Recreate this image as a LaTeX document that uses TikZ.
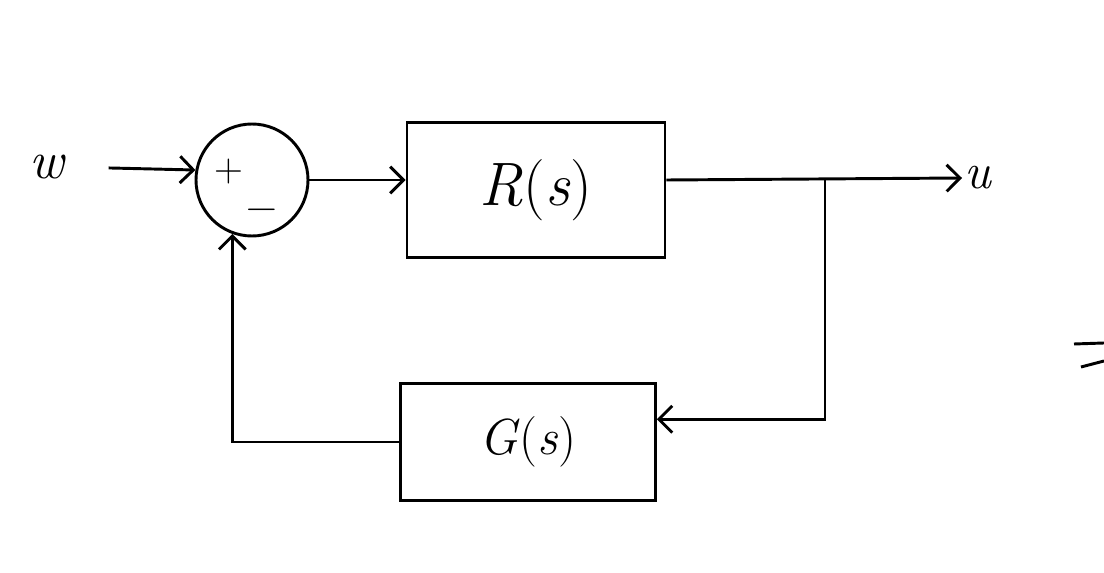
\documentclass[tikz,border=0pt]{standalone}
\usetikzlibrary{arrows.meta}

\begin{document}
\begin{tikzpicture}[x=0.75pt,y=0.75pt,yscale=-1,xscale=1,
	line width=2.2pt,
	blk/.style={draw,rectangle,inner sep=0pt},
	sumnode/.style={draw,circle,minimum size=84pt,inner sep=0pt},
	arr/.style={-{Straight Barb[length=10pt,width=20pt,line width=2.2pt]}}]
	\useasboundingbox (0,0) rectangle (1104,573);

	%Summing junction
	\node [sumnode] (sum) at (252,180) {};
	% Text Node
	\node [inner sep=0.75pt] (plus) at (229,172) {\fontsize{30}{30}\selectfont +};
	% Text Node
	\node [inner sep=0.75pt] (minus) at (262,215) {\fontsize{32}{32}\selectfont \char"2212};

	%Blocks
	\node [blk,minimum width=193.5pt,minimum height=101pt] (R) at (536,190) {\fontsize{46}{46}\selectfont \textit{R}(\textit{s})};
	\node [blk,minimum width=191pt,minimum height=88pt] (G) at (528,442) {\fontsize{38}{38}\selectfont \textit{G}(\textit{s})};

	% Text Node
	\node [inner sep=0.75pt] (w) at (48,167) {\fontsize{40}{40}\selectfont \textit{w}};
	% Text Node
	\node [inner sep=0.75pt,anchor=west] (u) at (962,178) {\fontsize{38}{38}\selectfont \textit{u}};

	\coordinate (br) at (825,180);

	%Straight Lines
	\draw [arr,shorten <=30pt] (w.east) -- (sum.170);
	\draw [arr] (sum.east) -- (sum.east -| R.west);
	\draw [arr] (sum.east -| R.east) -- (u.west);
	\draw [arr] (br) |- (G.10);
	\draw [arr] (G.west) -| (sum.250);

	%Mark at right edge
	\draw (1074,344) -- (1104,343) (1081,367) -- (1104,361);

\end{tikzpicture}
\end{document}
